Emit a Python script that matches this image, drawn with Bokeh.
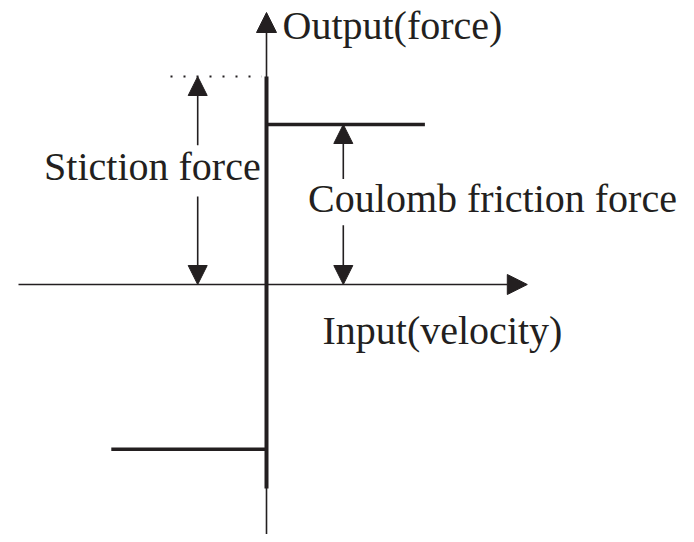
from bokeh.plotting import figure
from bokeh.models import Range1d, Arrow, NormalHead, ColumnDataSource
from bokeh.core.properties import value
from bokeh.embed import file_html
from bokeh.resources import INLINE

# --- friction model (force units: Coulomb level = 1) ---
stiction_force = 1.3
coulomb_pos = 1.0
coulomb_neg = -1.03
branch_pos_x = [0.0, 0.99]
branch_neg_x = [-0.97, 0.0]
jump_y = [-1.275, 1.3]

# axes extents (velocity / force)
x_axis = [-1.55, 1.63]
y_axis = [-1.58, 1.70]

# annotation positions
stiction_arrow_x = -0.43
coulomb_arrow_x = 0.48
dotted_x = [-0.6, -0.03]

labels = ["Output(force)", "Stiction force", "Coulomb friction force", "Input(velocity)"]
label_x = [0.10, -1.39, 0.26, 0.35]
label_y = [1.62, 0.74, 0.54, -0.29]

INK = "#231f20"
W, H = 686, 534
scale = 160.0
ox, oy = 266.0, 284.0

p = figure(width=W, height=H, output_backend="svg", toolbar_location=None,
           x_range=Range1d(-ox / scale, (W - ox) / scale),
           y_range=Range1d(-(H - oy) / scale, oy / scale),
           min_border=0)
p.axis.visible = False
p.grid.visible = False
p.outline_line_color = None
p.background_fill_color = "white"

# coordinate axes with arrowheads
p.add_layout(Arrow(x_start=x_axis[0], y_start=0, x_end=x_axis[1], y_end=0,
                   line_color=INK, line_width=1.6,
                   end=NormalHead(size=20, fill_color=INK, line_color=INK, line_width=1)))
p.add_layout(Arrow(x_start=0, y_start=y_axis[0], x_end=0, y_end=y_axis[1],
                   line_color=INK, line_width=1.6,
                   end=NormalHead(size=20, fill_color=INK, line_color=INK, line_width=1)))

# friction characteristic
p.line([0, 0], jump_y, line_color=INK, line_width=4)
p.line(branch_pos_x, [coulomb_pos, coulomb_pos], line_color=INK, line_width=3.5)
p.line(branch_neg_x, [coulomb_neg, coulomb_neg], line_color=INK, line_width=3.5)

# dotted stiction level
p.line(dotted_x, [stiction_force, stiction_force], line_color=INK, line_width=2,
       line_dash="2 11")

def dim_arrow(x, y0, y1):
    p.add_layout(Arrow(x_start=x, y_start=y0, x_end=x, y_end=y1,
                       line_color=INK, line_width=1.6,
                       end=NormalHead(size=19, fill_color=INK, line_color=INK, line_width=1)))

# stiction dimension arrows (broken by label)
dim_arrow(stiction_arrow_x, 0.87, stiction_force)
dim_arrow(stiction_arrow_x, 0.55, 0.0)
# coulomb dimension arrows
dim_arrow(coulomb_arrow_x, 0.66, coulomb_pos)
dim_arrow(coulomb_arrow_x, 0.37, 0.0)

src = ColumnDataSource(dict(x=label_x, y=label_y, t=labels))
p.text(x="x", y="y", text="t", source=src, text_font=value("Liberation Serif"),
       text_font_size="40px", text_color=INK, text_align="left",
       text_baseline="alphabetic")

open("out.html", "w").write(file_html(p, INLINE))
